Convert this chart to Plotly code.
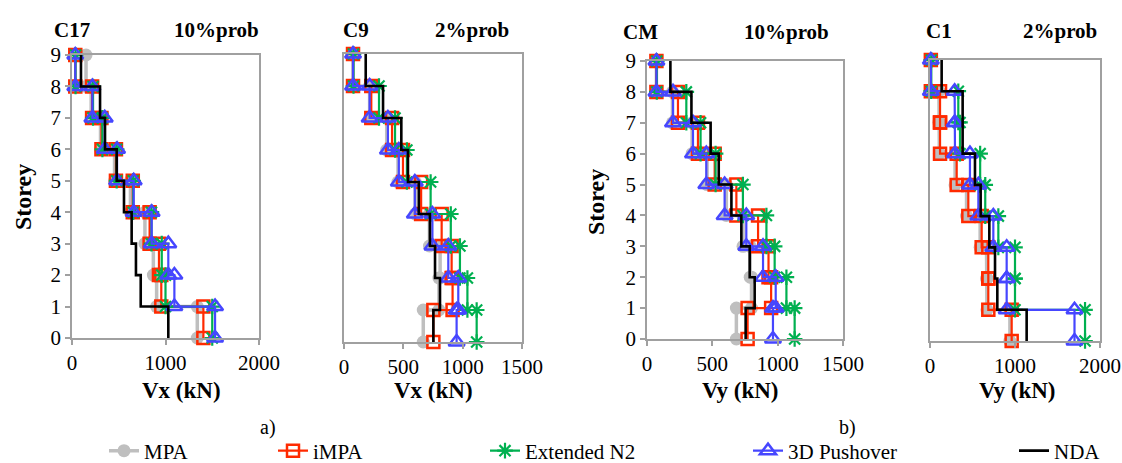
import plotly.graph_objects as go

# ---------------- data (storey shear, kN; index 0 = storey 1 ... index 8 = storey 9) ----------------
storeys = [1, 2, 3, 4, 5, 6, 7, 8, 9]
series_names = ["MPA", "iMPA", "Extended N2", "3D Pushover", "NDA"]

c17_mpa = [1340, 905, 870, 780, 625, 455, 305, 205, 150]
c17_impa = [1405, 955, 930, 830, 650, 470, 315, 215, 35]
c17_n2 = [1500, 1000, 960, 850, 655, 478, 325, 225, 38]
c17_push = [1530, 1095, 1030, 852, 660, 482, 350, 218, 35]
c17_nda = [1030, 735, 684, 638, 556, 478, 353, 300, 96]

c9_mpa = [668, 800, 810, 720, 600, 455, 360, 216, 76]
c9_impa = [753, 915, 907, 823, 650, 497, 405, 230, 76]
c9_n2 = [1118, 1040, 977, 900, 730, 530, 430, 295, 80]
c9_push = [949, 963, 879, 745, 597, 462, 370, 216, 76]
c9_nda = [753, 809, 767, 724, 630, 539, 483, 329, 183]

cm_mpa = [684, 800, 790, 735, 607, 460, 345, 195, 72]
cm_impa = [770, 950, 930, 850, 684, 518, 390, 237, 72]
cm_n2 = [1130, 1067, 977, 914, 734, 525, 410, 301, 75]
cm_push = [964, 985, 888, 760, 594, 454, 352, 199, 72]
cm_nda = [755, 824, 786, 722, 646, 549, 487, 340, 179]

c1_mpa = [940, 670, 665, 590, 430, 295, 110, 105, 5]
c1_impa = [961, 686, 686, 608, 451, 314, 118, 118, 10]
c1_n2 = [1824, 1000, 1000, 804, 650, 590, 353, 333, 15]
c1_push = [1700, 902, 902, 745, 569, 470, 294, 290, 10]
c1_nda = [1137, 792, 765, 698, 596, 529, 384, 384, 137]

panel_titles = ["C17", "C9", "CM", "C1"]
panel_probs = ["10%prob", "2%prob", "10%prob", "2%prob"]
x_titles = ["Vx (kN)", "Vx (kN)", "Vy (kN)", "Vy (kN)"]
x_ranges = [[0, 2000], [0, 1500], [0, 1500], [0, 2000]]
x_dticks = [1000, 500, 500, 1000]
y_ticks = [0, 1, 2, 3, 4, 5, 6, 7, 8, 9]
sub_labels = ["a)", "b)"]

panel_data = [
    [c17_mpa, c17_impa, c17_n2, c17_push, c17_nda],
    [c9_mpa, c9_impa, c9_n2, c9_push, c9_nda],
    [cm_mpa, cm_impa, cm_n2, cm_push, cm_nda],
    [c1_mpa, c1_impa, c1_n2, c1_push, c1_nda],
]

# ---------------- layout / style ----------------
W, H = 1122, 463
def fx(p):
    return p / W
def fy(p):
    return 1 - p / H

SERIF = "Liberation Serif, Times New Roman, serif"
styles = [
    dict(line=dict(color="#BFBFBF", width=3.5),
         marker=dict(symbol="circle", size=13, color="#BFBFBF")),
    dict(line=dict(color="#FF2A00", width=2.2),
         marker=dict(symbol="square-open", size=12, color="#FF2A00", line=dict(width=2.5, color="#FF2A00"))),
    dict(line=dict(color="#00B050", width=2.2),
         marker=dict(symbol="asterisk-open", size=13, color="#00B050", line=dict(width=2.2, color="#00B050"))),
    dict(line=dict(color="#4646FF", width=2.2),
         marker=dict(symbol="triangle-up-open", size=14, color="#4646FF", line=dict(width=2.5, color="#4646FF"))),
    dict(line=dict(color="black", width=2.6), marker=None),
]

dom_x = [(72, 259), (344, 522), (647, 843), (930, 1100)]
dom_y = [(55, 338), (54, 342), (61, 339), (60, 341)]
legend_ids = ["legend", "legend2", "legend3", "legend4", "legend5"]
legend_x = [104, 273, 485, 748, 1014]

fig = go.Figure()

for p, series in enumerate(panel_data):
    ax = "" if p == 0 else str(p + 1)
    for s, vals in enumerate(series):
        xs, ys = [], []
        for k in range(len(storeys) - 1, -1, -1):
            xs += [vals[k], vals[k]]
            ys += [storeys[k], storeys[k] - 1]
        st = styles[s]
        kw = dict(x=xs, y=ys, name=series_names[s], xaxis="x" + ax, yaxis="y" + ax,
                  cliponaxis=False, line=st["line"], showlegend=(p == 0),
                  legend=legend_ids[s], hoverinfo="skip")
        if st["marker"] is None:
            kw["mode"] = "lines"
        else:
            kw["mode"] = "lines+markers"
            kw["marker"] = st["marker"]
        fig.add_trace(go.Scatter(**kw))

layout = dict(width=W, height=H, margin=dict(l=0, r=0, t=0, b=0, autoexpand=False),
              paper_bgcolor="white", plot_bgcolor="white", annotations=[])

for p in range(4):
    ax = "" if p == 0 else str(p + 1)
    show_y = p in (0, 2)
    layout["xaxis" + ax] = dict(
        domain=[fx(dom_x[p][0]), fx(dom_x[p][1])], anchor="y" + ax,
        range=x_ranges[p], dtick=x_dticks[p], tick0=0, showgrid=False, zeroline=False,
        showline=True, mirror=True, linecolor="#A0A0A0", linewidth=1.5,
        ticks="outside", ticklen=5, tickcolor="#A0A0A0", tickwidth=1.5,
        tickfont=dict(family=SERIF, size=21, color="black"))
    layout["yaxis" + ax] = dict(
        domain=[fy(dom_y[p][1]), fy(dom_y[p][0])], anchor="x" + ax,
        range=[0, 9], tickvals=y_ticks, showgrid=False, zeroline=False,
        showline=True, mirror=True, linecolor="#A0A0A0", linewidth=1.5,
        ticks="outside" if show_y else "", ticklen=5, tickcolor="#A0A0A0", tickwidth=1.5,
        showticklabels=show_y,
        tickfont=dict(family=SERIF, size=21, color="black"))

def ann(text, x, y, size, bold=False, angle=0):
    layout["annotations"].append(dict(
        text=("<b>%s</b>" % text) if bold else text, x=fx(x), y=fy(y),
        xref="paper", yref="paper", xanchor="center", yanchor="middle",
        showarrow=False, textangle=angle,
        font=dict(family=SERIF, size=size, color="black")))

title_pos = [(72, 217, 30), (356, 472, 30), (640, 786, 32), (939, 1060, 31)]
for p in range(4):
    a, b, y = title_pos[p]
    ann(panel_titles[p], a, y, 21, bold=True)
    ann(panel_probs[p], b, y, 21, bold=True)

xt_pos = [181, 433, 740, 1017]
for p in range(4):
    ann(x_titles[p], xt_pos[p], 390, 23, bold=True)

ann("Storey", 23, 197, 24, bold=True, angle=-90)
ann("Storey", 596, 202, 24, bold=True, angle=-90)
ann(sub_labels[0], 268, 427, 20)
ann(sub_labels[1], 848, 427, 20)

for i, lid in enumerate(legend_ids):
    layout[lid] = dict(x=fx(legend_x[i]), y=fy(451), xanchor="left", yanchor="middle",
                       orientation="h", bgcolor="rgba(0,0,0,0)", itemwidth=30,
                       tracegroupgap=0, font=dict(family=SERIF, size=21, color="black"))

fig.update_layout(**layout)
# remove the default page margin so the 1122x463 figure fills the window exactly
fig.write_html("out.html", config={"displayModeBar": False},
               post_script="document.body.style.margin='0';document.body.style.overflow='hidden';")
